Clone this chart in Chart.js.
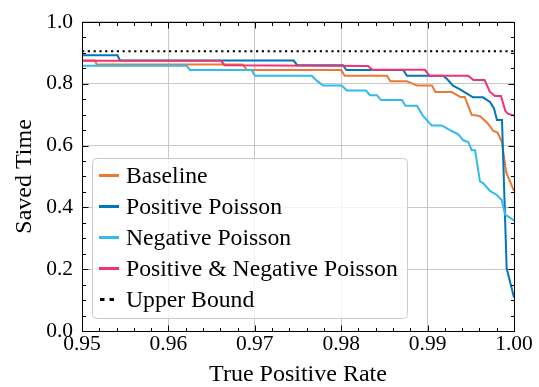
<!DOCTYPE html>
<html>
<head>
<meta charset="utf-8">
<script src="https://cdn.jsdelivr.net/npm/chart.js@4/dist/chart.umd.min.js"></script>
<style>
  body { margin: 0; background: #fff; }
  canvas { display: block; }
</style>
</head>
<body>
<canvas id="roc" width="539" height="387"></canvas>
<script>
// values
const tprBaseline = [0.95, 0.9515, 0.9517, 0.9686, 0.9691, 0.9800, 0.9804, 0.9853, 0.9857, 0.9876, 0.9888, 0.9905, 0.9909, 0.9928, 0.9938, 0.9943, 0.9951, 0.9957, 0.9961, 0.9969, 0.9976, 0.9981, 0.9986, 0.9991, 1.0]
const savedBaseline = [0.875, 0.875, 0.862, 0.862, 0.844, 0.844, 0.826, 0.826, 0.808, 0.808, 0.794, 0.794, 0.773, 0.773, 0.757, 0.757, 0.699, 0.697, 0.694, 0.674, 0.647, 0.642, 0.611, 0.513, 0.453]

const tprPositive = [0.95, 0.9541, 0.9544, 0.9745, 0.9749, 0.9802, 0.9806, 0.9872, 0.9876, 0.9918, 0.99225, 0.99294, 0.99375, 0.99456, 0.99525, 0.99641, 0.99722, 0.99769, 0.99803, 0.99861, 0.99915, 1.0]
const savedPositive = [0.892, 0.892, 0.875, 0.875, 0.860, 0.860, 0.844, 0.844, 0.826, 0.826, 0.815, 0.794, 0.782, 0.768, 0.756, 0.756, 0.741, 0.720, 0.683, 0.683, 0.203, 0.108]

const tprNegative = [0.95, 0.96212, 0.9625, 0.96964, 0.97002, 0.97659, 0.97716, 0.97793, 0.98006, 0.98064, 0.98287, 0.98333, 0.98414, 0.98461, 0.98704, 0.98744, 0.98877, 0.98947, 0.99047, 0.99163, 0.99279, 0.99355, 0.99413, 0.99471, 0.99511, 0.99549, 0.99606, 0.99645, 0.99722, 0.998, 0.99858, 0.99896, 0.99934, 1.0]
const savedNegative = [0.858, 0.858, 0.844, 0.844, 0.826, 0.826, 0.810, 0.794, 0.794, 0.778, 0.778, 0.763, 0.763, 0.747, 0.747, 0.729, 0.729, 0.696, 0.665, 0.665, 0.647, 0.636, 0.617, 0.611, 0.585, 0.585, 0.484, 0.478, 0.453, 0.440, 0.424, 0.377, 0.370, 0.358]

const tprBoth = [0.95, 0.9661, 0.9665, 0.9831, 0.9836, 0.9897, 0.9902, 0.9947, 0.9953, 0.9966, 0.9972, 0.9978, 0.9985, 0.9990, 0.9993, 1.0]
const savedBoth = [0.874, 0.874, 0.860, 0.857, 0.845, 0.845, 0.826, 0.826, 0.812, 0.812, 0.774, 0.760, 0.760, 0.712, 0.703, 0.697]

const tprUpper = [0.95, 1.0]
const savedUpper = [0.905, 0.905]

const xTicks = [0.95, 0.96, 0.97, 0.98, 0.99, 1.00]
const yTicks = [0.0, 0.2, 0.4, 0.6, 0.8, 1.0]
const xMinorStep = 0.002
const yMinorStep = 0.05

const serif = "'Liberation Serif', 'Times New Roman', serif"

function pts(xs, ys) {
    return xs.map((v, i) => ({ x: v, y: ys[i] }))
}

function line(label, xs, ys, color, order) {
    return {
        label: label,
        data: pts(xs, ys),
        borderColor: color,
        backgroundColor: color,
        borderWidth: 2,
        pointRadius: 0,
        tension: 0,
        order: order
    }
}

// inward ticks on all four sides plus the black frame
const frameTicks = {
    id: 'frameTicks',
    afterDraw(chart) {
        const { ctx, chartArea: a, scales } = chart
        const xs = scales.x, ys = scales.y
        ctx.save()
        ctx.strokeStyle = '#000'
        ctx.lineWidth = 1
        const L = Math.round(a.left) + 0.5, R = Math.round(a.right) + 0.5
        const T = Math.round(a.top) + 0.5, B = Math.round(a.bottom) + 0.5
        ctx.beginPath()
        const nx = Math.round((xs.max - xs.min) / xMinorStep)
        for (let i = 0; i <= nx; i++) {
            const v = xs.min + i * xMinorStep
            const len = i % 5 === 0 ? 6 : 3.5
            const p = Math.round(xs.getPixelForValue(v)) + 0.5
            ctx.moveTo(p, B); ctx.lineTo(p, B - len)
            ctx.moveTo(p, T); ctx.lineTo(p, T + len)
        }
        const ny = Math.round((ys.max - ys.min) / yMinorStep)
        for (let i = 0; i <= ny; i++) {
            const v = ys.min + i * yMinorStep
            const len = i % 4 === 0 ? 6 : 3.5
            const p = Math.round(ys.getPixelForValue(v)) + 0.5
            ctx.moveTo(L, p); ctx.lineTo(L + len, p)
            ctx.moveTo(R, p); ctx.lineTo(R - len, p)
        }
        ctx.stroke()
        ctx.strokeRect(L, T, R - L, B - T)
        ctx.restore()
    }
}

// legend box drawn inside the plot, lower left
const innerLegend = {
    id: 'innerLegend',
    afterDatasetsDraw(chart) {
        const ctx = chart.ctx
        const a = chart.chartArea
        const bx = a.left + 10, by = 158, bw = 315, bh = 160, r = 4
        ctx.save()
        ctx.beginPath()
        ctx.roundRect(bx + 0.5, by + 0.5, bw, bh, r)
        ctx.fillStyle = 'rgba(255,255,255,0.8)'
        ctx.fill()
        ctx.strokeStyle = '#cccccc'
        ctx.lineWidth = 1
        ctx.stroke()
        ctx.font = '23.7px ' + serif
        ctx.fillStyle = '#000'
        ctx.textBaseline = 'alphabetic'
        chart.data.datasets.forEach((ds, i) => {
            const cy = 175.5 + i * 31
            ctx.beginPath()
            ctx.strokeStyle = ds.borderColor
            ctx.lineWidth = 3
            if (ds.borderDash) {
                ctx.setLineDash([4.5, 5])
                ctx.moveTo(bx + 8, cy); ctx.lineTo(bx + 23, cy)
            } else {
                ctx.setLineDash([])
                ctx.moveTo(bx + 7, cy); ctx.lineTo(bx + 27, cy)
            }
            ctx.stroke()
            ctx.setLineDash([])
            ctx.fillText(ds.label, bx + 34, cy + 7.5)
        })
        ctx.restore()
    }
}

Chart.defaults.color = '#000'
Chart.defaults.font.family = serif

new Chart(document.getElementById('roc'), {
    type: 'line',
    data: {
        datasets: [
            line('Baseline', tprBaseline, savedBaseline, '#EE7733', 5),
            line('Positive Poisson', tprPositive, savedPositive, '#0077BB', 4),
            line('Negative Poisson', tprNegative, savedNegative, '#33BBEE', 3),
            line('Positive & Negative Poisson', tprBoth, savedBoth, '#EE3377', 2),
            Object.assign(line('Upper Bound', tprUpper, savedUpper, '#000000', 1), {
                borderWidth: 2.2,
                borderDash: [2.2, 3.6],
                borderCapStyle: 'butt'
            })
        ]
    },
    options: {
        responsive: false,
        animation: false,
        devicePixelRatio: 1,
        layout: { padding: { top: 15, right: 25, left: 0, bottom: 0 } },
        plugins: {
            legend: { display: false },
            tooltip: { enabled: false }
        },
        scales: {
            x: {
                type: 'linear',
                min: 0.95,
                max: 1.0,
                afterFit: s => { s.height = 56 },
                afterBuildTicks: s => { s.ticks = xTicks.map(v => ({ value: v })) },
                ticks: {
                    font: { size: 21.5, family: serif },
                    padding: 0,
                    maxRotation: 0,
                    autoSkip: false,
                    callback: v => v.toFixed(2)
                },
                grid: { color: '#c8c8c8', lineWidth: 1, drawTicks: false },
                border: { display: false },
                title: {
                    display: true,
                    text: 'True Positive Rate',
                    font: { size: 24, family: serif, lineHeight: 1 },
                    padding: { top: 0, bottom: 0 }
                }
            },
            y: {
                type: 'linear',
                min: 0,
                max: 1.0,
                afterFit: s => { s.width = 82 },
                afterBuildTicks: s => { s.ticks = yTicks.map(v => ({ value: v })) },
                ticks: {
                    font: { size: 21.5, family: serif },
                    padding: 9,
                    callback: v => v.toFixed(1)
                },
                grid: { color: '#c8c8c8', lineWidth: 1, drawTicks: false },
                border: { display: false },
                title: {
                    display: true,
                    text: 'Saved Time',
                    font: { size: 24, family: serif, lineHeight: 1 },
                    padding: { top: 13, bottom: 0 }
                }
            }
        }
    },
    plugins: [frameTicks, innerLegend]
})
</script>
</body>
</html>
